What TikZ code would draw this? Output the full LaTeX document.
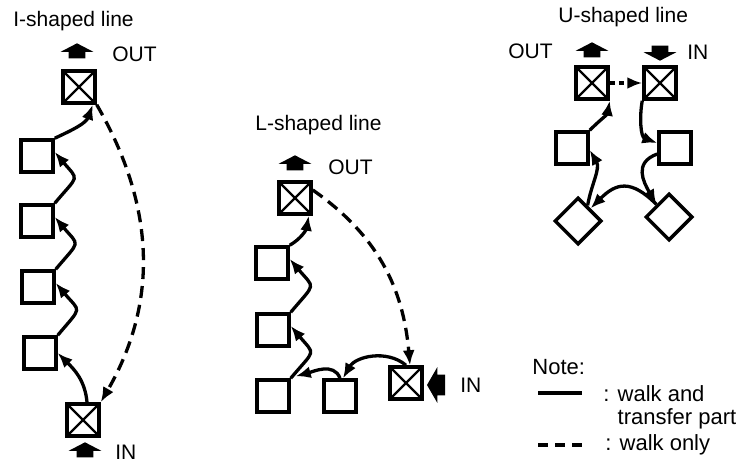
\documentclass[tikz,border=0pt]{standalone}
\usepackage{fontspec}
\setmainfont{Liberation Sans}
\usepackage{tikz}
\usetikzlibrary{shapes.geometric,shapes.arrows,arrows.meta}

\begin{document}
\begin{tikzpicture}[x=1pt,y=1pt,thick]
    % `station' is a plain work place (square).
    % `inout' is a place where the line is entered or left (crossed square).
    % `corner' is used for the turning places of the U line (diamonds).
    \tikzstyle{station} = [draw,line width=3.5pt,minimum size=32pt,inner sep=0pt]
    \tikzstyle{inout} = [station,path picture={
\draw[line width=2.4pt](path picture bounding box.north west) -- (path picture bounding box.south east) (path picture bounding box.north east) -- (path picture bounding box.south west);
}]
    \tikzstyle{corner} = [draw,line width=3.5pt,diamond,minimum size=47pt,inner sep=0pt]
    \tikzstyle{flow} = [line width=3.3pt,-{Latex[length=15pt,width=12pt]}]
    \tikzstyle{walk} = [flow,dash pattern=on 12pt off 7pt]
    % block arrows: `vblock' points up or down, `hblock' points sideways
    \tikzstyle{vblock} = [fill,single arrow,single arrow head extend=8pt,single arrow tip angle=125,
                          inner xsep=8pt,inner ysep=1pt,minimum height=15pt]
    \tikzstyle{hblock} = [fill,single arrow,single arrow head extend=7.5pt,single arrow tip angle=120,
                          inner xsep=1pt,inner ysep=10pt,minimum height=18pt]
    \tikzstyle{txt} = [font=\fontsize{21}{25}\selectfont,inner sep=0pt,anchor=west]
    \tikzstyle{notetxt} = [txt,font=\fontsize{22}{23}\selectfont,align=left]
    %
    \useasboundingbox (0,0) rectangle (740,-463);
    % I-shaped line
    \node[txt] (Ititle) at (13,-21) {I-shaped line};
    \node[vblock,shape border rotate=90] (Iout) at (77,-53) {};
    \node[txt] (Iouttext) at (112,-54) {OUT};
    \node[inout] (I0) at (79,-87) {};
    \node[station] (I1) at (37,-156) {};
    \node[station] (I2) at (37,-221) {};
    \node[station] (I3) at (38,-287) {};
    \node[station] (I4) at (40,-353) {};
    \node[inout] (I5) at (83,-420) {};
    \node[vblock,shape border rotate=90] (Iin) at (85,-452) {};
    \node[txt] (Iintext) at (115,-452) {IN};
    \draw[flow] ([xshift=4pt]I5.north) to[out=95,in=-45] (I4.east);
    \draw[flow] (I4.north east) to[out=50,in=-50,looseness=1.9] ([yshift=4pt]I3.east);
    \draw[flow] (I3.north east) to[out=50,in=-50,looseness=1.9] ([yshift=4pt]I2.east);
    \draw[flow] (I2.north east) to[out=50,in=-50,looseness=1.9] ([yshift=4pt]I1.east);
    \draw[flow] (I1.north east) to[out=25,in=-110] ([xshift=-4pt]I0.south east);
    \draw[walk] (I0.south east) to[out=-60,in=60] (I5.north east);
    % L-shaped line
    \node[txt] (Ltitle) at (255,-125) {L-shaped line};
    \node[vblock,shape border rotate=90] (Lout) at (295,-165) {};
    \node[txt] (Louttext) at (328,-167) {OUT};
    \node[inout] (L0) at (295,-198) {};
    \node[station] (L1) at (272,-263) {};
    \node[station] (L2) at (273,-330) {};
    \node[station] (L3) at (273,-396) {};
    \node[station] (L4) at (340,-396) {};
    \node[inout] (L5) at (406,-383) {};
    \node[hblock,shape border rotate=180] (Lin) at (439,-385) {};
    \node[txt] (Lintext) at (460,-385) {IN};
    \draw[flow] (L1.north east) to[out=30,in=-100] ([xshift=-4pt]L0.south east);
    \draw[flow] (L2.north east) to[out=50,in=-50,looseness=1.9] ([yshift=4pt]L1.east);
    \draw[flow] (L3.north east) to[out=50,in=-50,looseness=1.9] ([yshift=4pt]L2.east);
    \draw[flow] (L4.north) to[out=110,in=15] ([shift={(5pt,2pt)}]L3.north east);
    \draw[flow] (L5.north) to[out=140,in=60] ([xshift=3pt]L4.north);
    \draw[walk] ([yshift=8pt]L0.east) to[out=-35,in=95] ([xshift=4pt]L5.north);
    % U-shaped line
    \node[txt] (Utitle) at (558,-17) {U-shaped line};
    \node[txt,anchor=east] (Uouttext) at (553,-51) {OUT};
    \node[vblock,shape border rotate=90] (Uout) at (592,-52) {};
    \node[vblock,shape border rotate=270] (Uin) at (660,-51) {};
    \node[txt] (Uintext) at (687,-52) {IN};
    \node[inout] (U0) at (592,-83) {};
    \node[inout] (U1) at (660,-83) {};
    \node[station] (U2) at (675,-148) {};
    \node[corner] (U3) at (669,-217) {};
    \node[corner] (U4) at (578,-221) {};
    \node[station] (U5) at (572,-148) {};
    \draw[walk,dash pattern=on 5pt off 4pt] (U0.east) -- (U1.west);
    \draw[flow] (U5.north east) to[out=45,in=-100] (U0.south east);
    \draw[flow] (U1.south west) to[out=-100,in=160] ([yshift=5pt]U2.west);
    \draw[flow] ([yshift=-6pt]U2.west) to[out=200,in=120,looseness=1.3] (U3.north west);
    \draw[flow] (U3.north west) to[out=135,in=45,looseness=1.4] (U4.north east);
    \draw[flow] ([shift={(-3pt,3pt)}]U4.north east) to[out=80,in=-60] ([yshift=-2pt]U5.east);
    % Note
    \node[notetxt] (note) at (532,-367) {Note:};
    \coordinate (solidA) at (538,-393);
    \coordinate (solidB) at (582,-393);
    \draw[line width=3.3pt] (solidA) -- (solidB);
    \node[notetxt,anchor=north west] (walkpart) at (603,-385) {: walk and\\\hphantom{: }transfer part};
    \coordinate (dashA) at (538,-445);
    \coordinate (dashB) at (582,-445);
    \draw[line width=3.3pt,dash pattern=on 10pt off 7pt] (dashA) -- (dashB);
    \node[notetxt] (walkonly) at (605,-445) {: walk only};
\end{tikzpicture}
\end{document}
